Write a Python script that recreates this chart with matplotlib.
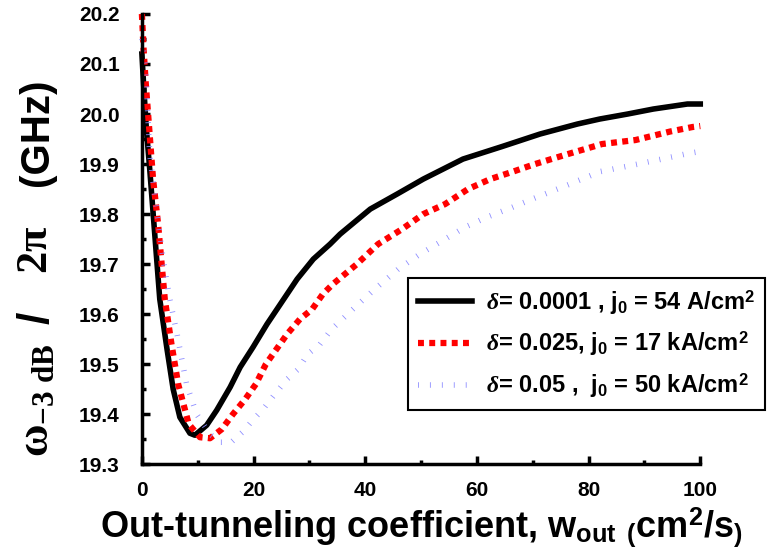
import matplotlib
matplotlib.use('Agg')
import matplotlib.pyplot as plt

plt.rcParams['font.family'] = 'Liberation Sans'
plt.rcParams['font.weight'] = 'bold'
plt.rcParams['mathtext.fontset'] = 'custom'
plt.rcParams['mathtext.rm'] = 'Liberation Sans:bold'
plt.rcParams['mathtext.bf'] = 'Liberation Sans:bold'
plt.rcParams['mathtext.it'] = 'Liberation Serif:italic'
plt.rcParams['mathtext.sf'] = 'Liberation Serif:bold'

# delta = 0.0001, j0 = 54 A/cm^2
x_black = [0, 0.3, 0.8, 1.4, 2.3, 3.2, 4.5, 5.6, 6.8, 8.6, 9.5, 11.6, 13.4, 15.8, 17.6,
           19.9, 22.4, 24.2, 27.8, 30.7, 33.7, 35.5, 40.9, 45.7, 50.4, 57.5, 64.5,
           71.3, 78, 82, 87, 91.6, 97.7, 100]
y_black = [20.12, 20.06, 19.97, 19.89, 19.76, 19.63, 19.53, 19.45, 19.394, 19.362,
           19.358, 19.378, 19.408, 19.454, 19.494, 19.534, 19.58, 19.61, 19.67, 19.71,
           19.74, 19.76, 19.81, 19.84, 19.87, 19.91, 19.935, 19.96, 19.98, 19.99,
           20.0, 20.01, 20.02, 20.02]

# delta = 0.025, j0 = 17 kA/cm^2
x_red = [0, 0.3, 0.7, 2, 2.9, 4.1, 5.3, 6.5, 8.4, 10.4, 12.2, 14.3, 16.3, 18.5, 20.4,
         22.2, 26, 28.3, 30.5, 32.4, 34.2, 38.5, 42.3, 46.6, 50.4, 54.3, 58.4, 62.4,
         66.5, 70.4, 76.3, 82.4, 88.4, 94.6, 98.6, 100]
y_red = [20.2, 20.13, 20.06, 19.87, 19.78, 19.63, 19.54, 19.46, 19.38, 19.354, 19.352,
         19.37, 19.40, 19.43, 19.46, 19.50, 19.56, 19.59, 19.61, 19.64, 19.66, 19.70,
         19.74, 19.77, 19.80, 19.82, 19.85, 19.87, 19.885, 19.90, 19.92, 19.94,
         19.948, 19.965, 19.974, 19.976]

# delta = 0.05, j0 = 50 kA/cm^2
x_blue = [0, 0.6, 1.4, 2.5, 3.8, 5, 6.3, 8, 9.8, 12.2, 14, 16, 18, 20, 21.7, 23.8, 26,
          28, 29.7, 31.9, 34, 37.8, 41.7, 45.9, 49.8, 54, 57.9, 61.8, 66, 69.9, 76.2,
          82.1, 88, 94, 98.2, 100]
y_blue = [20.15, 20.1, 19.92, 19.82, 19.71, 19.63, 19.56, 19.46, 19.40, 19.36, 19.344,
          19.344, 19.364, 19.39, 19.41, 19.44, 19.47, 19.49, 19.52, 19.54, 19.57, 19.61,
          19.65, 19.69, 19.72, 19.748, 19.774, 19.794, 19.812, 19.83, 19.858, 19.885,
          19.898, 19.912, 19.922, 19.925]

labels = [r'$\delta$= 0.0001 , j$_0$ = 54 A/cm$^2$',
          r'$\delta$= 0.025, j$_0$ = 17 kA/cm$^2$',
          r'$\delta$= 0.05 ,  j$_0$ = 50 kA/cm$^2$']

fig = plt.figure(figsize=(7.67, 5.58), dpi=100)
ax = fig.add_axes([0.185, 0.168, 0.728, 0.807])

ax.plot(x_black, y_black, color='black', lw=4, label=labels[0], clip_on=False)
ax.plot(x_red, y_red, color='red', lw=4.5, ls=(0, (0.95, 0.85)), label=labels[1],
        clip_on=False)
ax.plot(x_blue, y_blue, color='#8c8cff', lw=4, ls=(0, (0.15, 2.0)), label=labels[2],
        clip_on=False)

ax.set_xlim(0, 100)
ax.set_ylim(19.3, 20.2)
ax.set_xticks([0, 20, 40, 60, 80, 100])
ax.set_xticks([10, 30, 50, 70, 90], minor=True)
ax.set_yticks([19.3, 19.4, 19.5, 19.6, 19.7, 19.8, 19.9, 20.0, 20.1, 20.2])
ax.set_yticklabels(['19.3', '19.4', '19.5', '19.6', '19.7', '19.8', '19.9',
                    '20.0', '20.1', '20.2'])
ax.set_yticks([19.35, 19.45, 19.55, 19.65, 19.75, 19.85, 19.95, 20.05, 20.15],
              minor=True)
ax.tick_params(which='both', direction='in', width=2.5, labelsize=15)
ax.tick_params(axis='x', pad=12)
ax.tick_params(axis='y', pad=16)
ax.tick_params(which='major', length=6)
ax.tick_params(which='minor', length=3)
for lab in ax.get_xticklabels() + ax.get_yticklabels():
    lab.set_fontweight('bold')

ax.spines['top'].set_visible(False)
ax.spines['right'].set_visible(False)
ax.spines['left'].set_linewidth(2.5)
ax.spines['bottom'].set_linewidth(2.5)

ax.set_xlabel(r'Out-tunneling coefficient, w$_\mathrm{out}$ $_($cm$^2$/s$_)$',
              fontsize=26, fontweight='bold', labelpad=4)

# y label built from pieces, as in the original (big serif omega / 2pi, sans GHz)
fig.text(0.048, 1 - 400 / 558, r'$\mathsf{\omega}_{\mathsf{-3\ dB}}$', fontsize=32,
         rotation=90, ha='center', va='center')
fig.text(0.048, 1 - 318 / 558, '/', fontsize=32, fontweight='bold',
         rotation=90, ha='center', va='center')
fig.text(0.046, 1 - 250 / 558, r'$\mathsf{2\pi}$', fontsize=32,
         rotation=90, ha='center', va='center')
fig.text(0.048, 1 - 132 / 558, '(GHz)', fontsize=29, fontweight='bold',
         rotation=90, ha='center', va='center')

leg = ax.legend(loc='upper left', bbox_to_anchor=(0.477, 0.413), fontsize=17,
                handlelength=2.3, handletextpad=0.6, labelspacing=0.55,
                borderpad=0.4, borderaxespad=0, fancybox=False, framealpha=1,
                edgecolor='black')
leg.get_frame().set_linewidth(1.5)
for t in leg.get_texts():
    t.set_fontweight('bold')

fig.savefig('out.png', dpi=100)
